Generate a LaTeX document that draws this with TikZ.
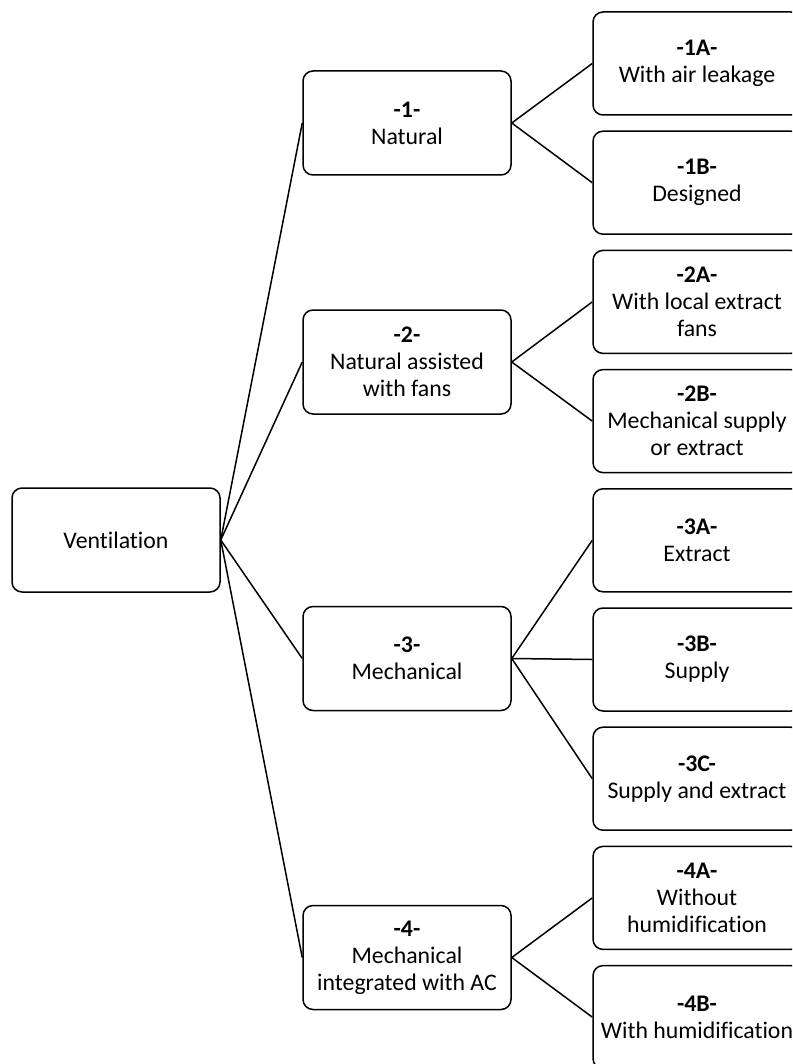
\documentclass[tikz,border=0pt]{standalone}
\usepackage{fontspec}
\setmainfont{Carlito}[Ligatures=NoCommon]
\begin{document}
\begin{tikzpicture}[x=1pt,y=-1pt,
  box/.style={draw=black, line width=1.5pt, rounded corners=10pt, fill=white,
    minimum width=208pt, minimum height=103pt, inner sep=0pt, align=center,
    font=\fontsize{23.8}{27}\selectfont},
  conn/.style={draw=black, line width=1.5pt}]
\useasboundingbox (0,0) rectangle (792,1064);
\clip (0,0) rectangle (792,1064);
\fill[white] (0,0) rectangle (792,1064);
% root
\node[box, minimum width=208pt, minimum height=104pt] (root) at (116,540) {Ventilation};
% level 1
\node[box, minimum height=104pt] (n1) at (407,123) {\textbf{-1-}\\Natural};
\node[box, minimum height=104pt] (n2) at (407,362) {\textbf{-2-}\\Natural assisted\\with fans};
\node[box, minimum height=104pt] (n3) at (407,658.5) {\textbf{-3-}\\Mechanical};
\node[box, minimum height=104pt] (n4) at (407,957.5) {\textbf{-4-}\\Mechanical\\integrated with AC};
% level 2
\node[box] (n1a) at (697,63.5) {\textbf{-1A-}\\With air leakage};
\node[box] (n1b) at (697,182.7) {\textbf{-1B-}\\Designed};
\node[box] (n2a) at (697,301.9) {\textbf{-2A-}\\With local extract\\fans};
\node[box] (n2b) at (697,421.1) {\textbf{-2B-}\\Mechanical supply\\or extract};
\node[box] (n3a) at (697,540.3) {\textbf{-3A-}\\Extract};
\node[box] (n3b) at (697,659.5) {\textbf{-3B-}\\Supply};
\node[box] (n3c) at (697,778.7) {\textbf{-3C-}\\Supply and extract};
\node[box] (n4a) at (697,897.9) {\textbf{-4A-}\\Without\\humidification};
\node[box] (n4b) at (697,1017.1) {\textbf{-4B-}\\With humidification};
% connectors
\foreach \t in {n1,n2,n3,n4} \draw[conn] (root.east) -- (\t.west);
\draw[conn] (n1.east) -- (n1a.west);
\draw[conn] (n1.east) -- (n1b.west);
\draw[conn] (n2.east) -- (n2a.west);
\draw[conn] (n2.east) -- (n2b.west);
\draw[conn] (n3.east) -- (n3a.west);
\draw[conn] (n3.east) -- (n3b.west);
\draw[conn] (n3.east) -- (n3c.west);
\draw[conn] (n4.east) -- (n4a.west);
\draw[conn] (n4.east) -- (n4b.west);
\end{tikzpicture}
\end{document}
